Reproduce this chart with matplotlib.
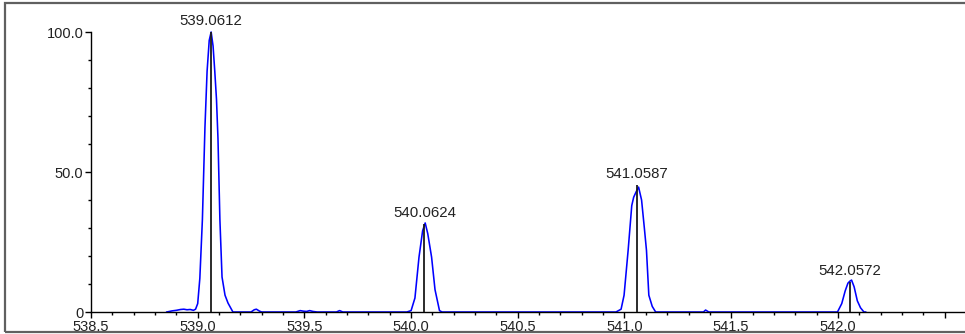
import numpy as np
import matplotlib
matplotlib.use("Agg")
import matplotlib.pyplot as plt
from matplotlib.patches import Rectangle
from matplotlib.ticker import MultipleLocator, FixedLocator

plt.rcParams['font.family'] = ['Liberation Sans', 'DejaVu Sans']

# profile trace (m/z, relative abundance)
profile_mz = [538.855, 538.88, 538.90, 538.92, 538.935, 538.95, 538.965, 538.98, 538.99,
              539.00, 539.01, 539.022, 539.034, 539.044, 539.054, 539.063, 539.072,
              539.08, 539.088, 539.095, 539.104, 539.114, 539.128, 539.142, 539.165,
              539.25, 539.265, 539.275, 539.29, 539.30,
              539.46, 539.48, 539.495, 539.51, 539.525, 539.54, 539.56,
              539.65, 539.665, 539.68,
              539.98, 540.00, 540.018, 540.037, 540.054, 540.066, 540.078, 540.096,
              540.112, 540.133, 540.145,
              540.96, 540.984, 540.998, 541.017, 541.034, 541.043, 541.055, 541.066,
              541.08, 541.093, 541.103, 541.114, 541.13, 541.146,
              541.37, 541.38, 541.395,
              541.998, 542.018, 542.034, 542.047, 542.056, 542.064, 542.076, 542.091,
              542.106, 542.122, 542.13]
profile_int = [0, 0.4, 0.6, 0.9, 1.0, 0.8, 0.9, 0.6, 1.0,
               3, 12, 33, 66, 86, 97, 100, 95,
               86, 76, 62, 33, 12.5, 6, 3.2, 0,
               0, 0.8, 1.0, 0.3, 0,
               0, 0.5, 0.3, 0.2, 0.5, 0.2, 0,
               0, 0.5, 0,
               0, 0.5, 5, 19.6, 29, 31.8, 28, 19.6,
               8, 0.5, 0,
               0, 1, 6, 22, 38, 41, 43, 44.6,
               40, 30, 22, 6, 2, 0,
               0, 0.7, 0,
               0, 3, 7.5, 10.3, 11, 11.4, 9, 4,
               1.5, 0, 0]

# centroid sticks
peak_mz = [539.0612, 540.0624, 541.0587, 542.0572]
peak_int = [100, 31.5, 45.4, 10.8]
peak_labels = ["539.0612", "540.0624", "541.0587", "542.0572"]

W, H = 965, 334
fig = plt.figure(figsize=(W / 100, H / 100), dpi=100)

# outer frame
fig.patches.append(Rectangle((5 / W, 2.5 / H), 1.2, 328.5 / H, transform=fig.transFigure,
                             fill=False, edgecolor='#606060', linewidth=1.6, clip_on=False))

ax = fig.add_axes([91 / W, 22 / H, (W - 91) / W, 280 / H])
ax.set_xlim(538.5, 538.5 + (W - 91) / 213.4)
ax.set_ylim(0, 100)

ax.plot(profile_mz, profile_int, color='#0000ff', linewidth=1.15, zorder=2, clip_on=False)
ax.vlines(peak_mz, 0, peak_int, color='#1a1a1a', linewidth=1.3, zorder=3)
for mz, h, lab in zip(peak_mz, peak_int, peak_labels):
    ax.annotate(lab, (mz, h), xytext=(0, 3), textcoords='offset points',
                ha='center', va='bottom', fontsize=10.8, color='#222222')

for s in ['top', 'right']:
    ax.spines[s].set_visible(False)
ax.spines['left'].set_bounds(0, 100)
ax.spines['left'].set_linewidth(1.0)
ax.spines['bottom'].set_linewidth(1.0)

ax.xaxis.set_major_locator(MultipleLocator(0.5))
ax.xaxis.set_minor_locator(MultipleLocator(0.1))
ax.xaxis.set_major_formatter(lambda v, p: "%.1f" % v if v < 542.2 else "")
ax.yaxis.set_major_locator(FixedLocator([0, 50, 100]))
ax.yaxis.set_minor_locator(MultipleLocator(10))
ax.set_yticklabels(["0", "50.0", "100.0"])
ax.tick_params(axis='both', which='major', direction='out', length=4, width=1,
               labelsize=10.5, labelcolor='#222222', pad=1.5)
ax.tick_params(axis='both', which='minor', direction='out', length=2.5, width=1)
ax.set_facecolor('none')

fig.savefig("out.png", dpi=100)
